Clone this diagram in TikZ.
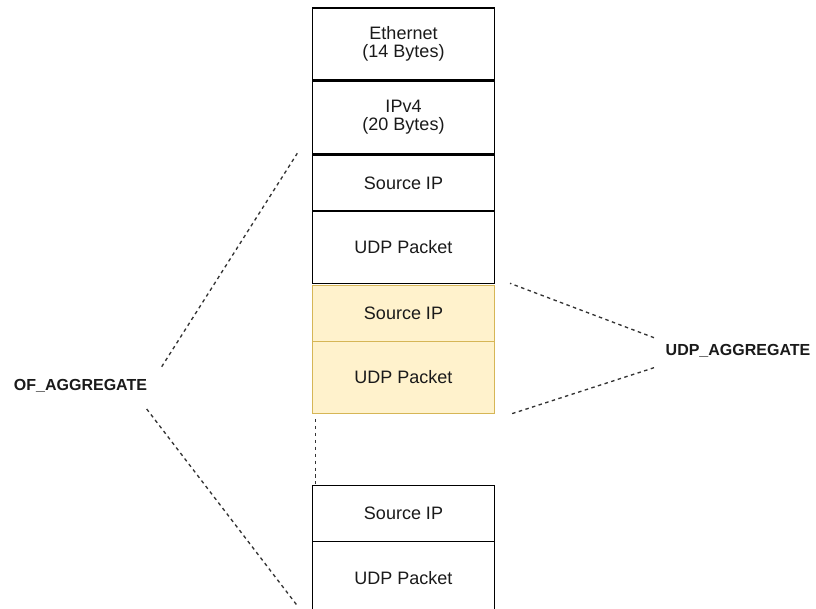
\documentclass[tikz,border=0pt]{standalone}
\usepackage{fontspec}
\setmainfont{Liberation Sans}
\definecolor{inktext}{HTML}{1A1A1A}
\definecolor{dashgray}{HTML}{333333}
\definecolor{hlfill}{HTML}{FFF2CC}
\definecolor{hldraw}{HTML}{D6B656}
\begin{document}
\begin{tikzpicture}[x=0.75pt,y=-0.75pt,
  field/.style={draw=black, line width=1.1pt, fill=white, inner sep=0pt, outer sep=0pt,
    minimum width=136.2pt, text=inktext, align=center,
    font=\fontsize{13.5}{13.5}\selectfont},
  hlfield/.style={field, draw=hldraw, fill=hlfill},
  taglabel/.style={inner sep=0pt, text=inktext, font=\fontsize{12}{14}\selectfont\bfseries},
  guide/.style={draw=dashgray, line width=1pt, dash pattern=on 2.6pt off 2.6pt}]
\clip (0,0) rectangle (816,609);
\fill[white] (0,0) rectangle (816,609);

% header stack
\node[field, minimum height=54pt] (eth) at (403.5,44.2) {Ethernet\\(14 Bytes)};
\node[field, minimum height=54pt] (ipv4) at (403.5,117.3) {IPv4\\(20 Bytes)};

% first aggregated record
\node[field, minimum height=42pt] (src1) at (403.5,183) {Source IP};
\node[field, minimum height=54.2pt] (udp1) at (403.5,247.2) {UDP Packet};

% highlighted record
\node[hlfield, minimum height=42pt] (src2) at (403.5,313.7) {Source IP};
\node[hlfield, minimum height=53.7pt] (udp2) at (403.5,377.5) {UDP Packet};

% last record
\node[field, minimum height=42pt] (src3) at (403.5,513.7) {Source IP};
\node[field, minimum height=54pt] (udp3) at (403.5,577.7) {UDP Packet};

% labels
\node[taglabel] (ofagg) at (80.5,385.7) {OF\_AGGREGATE};
\node[taglabel] (udpagg) at (738,350.5) {UDP\_AGGREGATE};

% guide end points
\coordinate (ofA) at (161.7,366.7);
\coordinate (ofB) at (297.3,153.3);
\coordinate (ofC) at (146.7,409);
\coordinate (ofD) at (297.3,605.7);
\coordinate (udA) at (654,337.7);
\coordinate (udB) at (510,283.3);
\coordinate (udC) at (654,367.7);
\coordinate (udD) at (510,414.3);
\coordinate (gapT) at (315.7,419);
\coordinate (gapB) at (315.7,484);

\draw[guide] (ofA) -- (ofB);
\draw[guide] (ofC) -- (ofD);
\draw[guide] (udA) -- (udB);
\draw[guide] (udC) -- (udD);
\draw[guide] (gapT) -- (gapB);
\end{tikzpicture}
\end{document}
